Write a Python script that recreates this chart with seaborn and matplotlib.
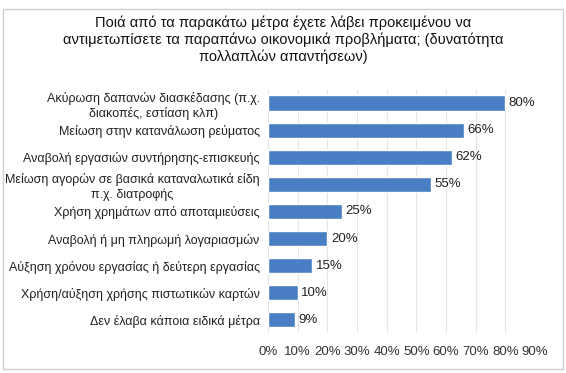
import matplotlib
matplotlib.use("Agg")
import matplotlib.pyplot as plt
import seaborn as sns
import pandas as pd

measures = [
    "Ακύρωση δαπανών διασκέδασης (π.χ.\nδιακοπές, εστίαση κλπ)",
    "Μείωση στην κατανάλωση ρεύματος",
    "Αναβολή εργασιών συντήρησης-επισκευής",
    "Μείωση αγορών σε βασικά καταναλωτικά είδη\nπ.χ. διατροφής",
    "Χρήση χρημάτων από αποταμιεύσεις",
    "Αναβολή ή μη πληρωμή λογαριασμών",
    "Αύξηση χρόνου εργασίας ή δεύτερη εργασίας",
    "Χρήση/αύξηση χρήσης πιστωτικών καρτών",
    "Δεν έλαβα κάποια ειδικά μέτρα",
]
percent = [80, 66, 62, 55, 25, 20, 15, 10, 9]
xticks = [0, 10, 20, 30, 40, 50, 60, 70, 80, 90]

title = ("Ποιά από τα παρακάτω μέτρα έχετε λάβει προκειμένου να\n"
         "αντιμετωπίσετε τα παραπάνω οικονομικά προβλήματα; (δυνατότητα\n"
         "πολλαπλών απαντήσεων)")

df = pd.DataFrame({"measure": measures, "pct": percent})

sns.set_style("white")
plt.rcParams["font.family"] = ["Liberation Sans", "DejaVu Sans"]

fig = plt.figure(figsize=(5.66, 3.73), dpi=100)
ax = fig.add_axes([0.4735, 0.106, 0.4715, 0.654])

sns.barplot(data=df, x="pct", y="measure", color="#4a7ec4", width=0.56,
            saturation=1, ax=ax, zorder=3)

ax.set_xlim(0, 90)
ax.set_xticks(xticks)
ax.set_xticklabels([f"{t}%" for t in xticks], fontsize=9.5, color="#333333")
ax.set_xlabel("")
ax.set_ylabel("")
ax.grid(axis="x", color="#e4e4e4", linewidth=0.8, zorder=0)
for s in ax.spines.values():
    s.set_visible(False)
ax.tick_params(axis="y", length=0, pad=6)
ax.tick_params(axis="x", length=0, pad=9)
for lbl in ax.get_yticklabels():
    lbl.set_fontsize(9)
    lbl.set_color("#222222")
    lbl.set_multialignment("center")

for i, v in enumerate(percent):
    ax.text(v + 1.2, i, f"{v}%", va="center", ha="left", fontsize=9.5, color="#222222")

fig.text(0.5, 0.893, title, ha="center", va="center", fontsize=10.5,
         color="#111111", linespacing=1.2)

fig.patches.append(plt.Rectangle((0.006, 0.01), 0.988, 0.965, transform=fig.transFigure,
                                 fill=False, edgecolor="#cfcfcf", linewidth=1))

fig.savefig("out.png", dpi=100)
